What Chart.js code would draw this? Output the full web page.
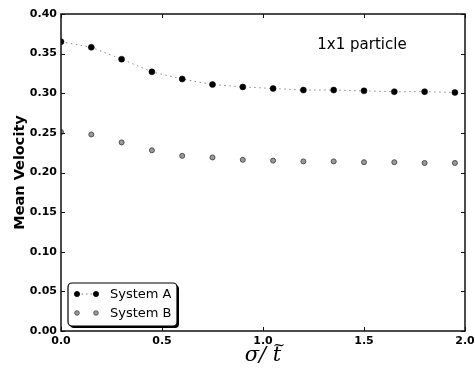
<!DOCTYPE html>
<html>
<head>
<meta charset="utf-8">
<script src="https://cdn.jsdelivr.net/npm/chart.js@4"></script>
<style>
  html, body { margin: 0; padding: 0; background: #fff; }
  #wrap { width: 475px; height: 368px; }
</style>
</head>
<body>
<div id="wrap"><canvas id="velChart" width="475" height="368"></canvas></div>
<script>
// sigma / t~ values
const sigma = [0, 0.15, 0.3, 0.45, 0.6, 0.75, 0.9, 1.05, 1.2, 1.35, 1.5, 1.65, 1.8, 1.95];
const systemA = [0.365, 0.358, 0.343, 0.327, 0.318, 0.311, 0.308, 0.306, 0.304, 0.304, 0.303, 0.302, 0.302, 0.301];
const systemB = [0.251, 0.248, 0.238, 0.228, 0.221, 0.219, 0.216, 0.215, 0.214, 0.214, 0.213, 0.213, 0.212, 0.212];
const seriesNames = ["System A", "System B"];
const panelLabel = "1x1 particle";

const toPoints = (ys) => sigma.map((x, i) => ({ x: x, y: ys[i] }));

// frame, inward ticks, x title, panel label and legend box
const framePlugin = {
  id: "frame",
  afterDraw(chart) {
    const c = chart.ctx;
    const a = chart.chartArea;
    const xs = chart.scales.x;
    const ys = chart.scales.y;
    c.save();
    c.strokeStyle = "#111";
    c.lineWidth = 1.5;
    c.strokeRect(a.left, a.top, a.right - a.left, a.bottom - a.top);

    c.lineWidth = 1;
    xs.ticks.forEach((t) => {
      const px = Math.round(xs.getPixelForValue(t.value)) + 0.5;
      c.beginPath();
      c.moveTo(px, a.bottom); c.lineTo(px, a.bottom - 4);
      c.moveTo(px, a.top); c.lineTo(px, a.top + 4);
      c.stroke();
    });
    ys.ticks.forEach((t) => {
      const py = Math.round(ys.getPixelForValue(t.value)) + 0.5;
      c.beginPath();
      c.moveTo(a.left, py); c.lineTo(a.left + 4, py);
      c.moveTo(a.right, py); c.lineTo(a.right - 4, py);
      c.stroke();
    });

    // x axis title: sigma / t with a tilde over the t
    const cx = (a.left + a.right) / 2;
    c.fillStyle = "#000";
    c.font = "italic 21px 'DejaVu Serif'";
    c.textBaseline = "alphabetic";
    c.textAlign = "left";
    const part = "σ/ ";
    const w1 = c.measureText(part).width;
    const wt = c.measureText("t").width;
    const x0 = cx - (w1 + wt) / 2;
    c.fillText(part, x0, 361);
    c.fillText("t", x0 + w1, 361);
    c.font = "15px 'DejaVu Serif'";
    c.textAlign = "center";
    c.fillText("~", x0 + w1 + wt / 2 + 2, 350);

    // panel label
    c.font = "15px 'DejaVu Sans'";
    c.textAlign = "center";
    c.textBaseline = "middle";
    c.fillText(panelLabel, a.left + 0.745 * (a.right - a.left), a.top + 31);

    // legend
    const bx = a.left + 7, by = a.bottom - 48, bw = 109, bh = 43;
    c.fillStyle = "#000";
    c.beginPath();
    c.roundRect(bx + 2, by + 2, bw, bh, 4);
    c.fill();
    c.fillStyle = "#fff";
    c.strokeStyle = "#000";
    c.lineWidth = 1.2;
    c.beginPath();
    c.roundRect(bx, by, bw, bh, 4);
    c.fill();
    c.stroke();

    const rows = [
      { y: by + 11, fill: "#000", stroke: "#000", r: 2.6, line: true },
      { y: by + 30, fill: "#999", stroke: "#444", r: 2.3, line: false }
    ];
    rows.forEach((row, i) => {
      const x1 = bx + 9, x2 = bx + 28;
      if (row.line) {
        c.strokeStyle = "#777";
        c.lineWidth = 1;
        c.setLineDash([1.5, 3]);
        c.beginPath();
        c.moveTo(x1, row.y); c.lineTo(x2, row.y);
        c.stroke();
        c.setLineDash([]);
      }
      [x1, x2].forEach((mx) => {
        c.beginPath();
        c.arc(mx, row.y, row.r, 0, Math.PI * 2);
        c.fillStyle = row.fill;
        c.fill();
        c.strokeStyle = row.stroke;
        c.lineWidth = 0.8;
        c.stroke();
      });
      c.fillStyle = "#000";
      c.font = "13px 'DejaVu Sans'";
      c.textAlign = "left";
      c.textBaseline = "middle";
      c.fillText(seriesNames[i], bx + 42, row.y + 1);
    });
    c.restore();
  }
};

new Chart(document.getElementById("velChart").getContext("2d"), {
  type: "scatter",
  data: {
    datasets: [
      {
        label: seriesNames[0],
        data: toPoints(systemA),
        showLine: true,
        borderColor: "#8a8a8a",
        borderWidth: 1,
        borderDash: [1.5, 3.5],
        pointRadius: 3,
        pointBackgroundColor: "#000",
        pointBorderColor: "#000",
        pointBorderWidth: 0.5
      },
      {
        label: seriesNames[1],
        data: toPoints(systemB),
        showLine: false,
        pointRadius: 2.5,
        pointBackgroundColor: "#9a9a9a",
        pointBorderColor: "#444",
        pointBorderWidth: 0.9
      }
    ]
  },
  options: {
    responsive: false,
    animation: false,
    layout: { padding: { left: 0, top: 14, right: 0, bottom: 0 } },
    plugins: {
      legend: { display: false },
      tooltip: { enabled: false }
    },
    scales: {
      x: {
        type: "linear",
        min: 0,
        max: 2,
        grid: { display: false, drawTicks: false },
        border: { display: false },
        ticks: {
          stepSize: 0.5,
          padding: 4,
          color: "#000",
          font: { family: "'DejaVu Sans'", size: 11, weight: "bold" },
          callback: (v) => v.toFixed(1)
        },
        afterFit: (s) => { s.height = 37; s.paddingRight = 10; }
      },
      y: {
        min: 0,
        max: 0.4,
        grid: { display: false, drawTicks: false },
        border: { display: false },
        ticks: {
          stepSize: 0.05,
          padding: 4,
          color: "#000",
          font: { family: "'DejaVu Sans'", size: 11, weight: "bold" },
          callback: (v) => v.toFixed(2)
        },
        title: {
          display: true,
          text: "Mean Velocity",
          color: "#000",
          padding: { top: 12, bottom: 0 },
          font: { family: "'DejaVu Sans'", size: 14.5, weight: "bold" }
        },
        afterFit: (s) => { s.width = 61; }
      }
    }
  },
  plugins: [framePlugin]
});
</script>
</body>
</html>
